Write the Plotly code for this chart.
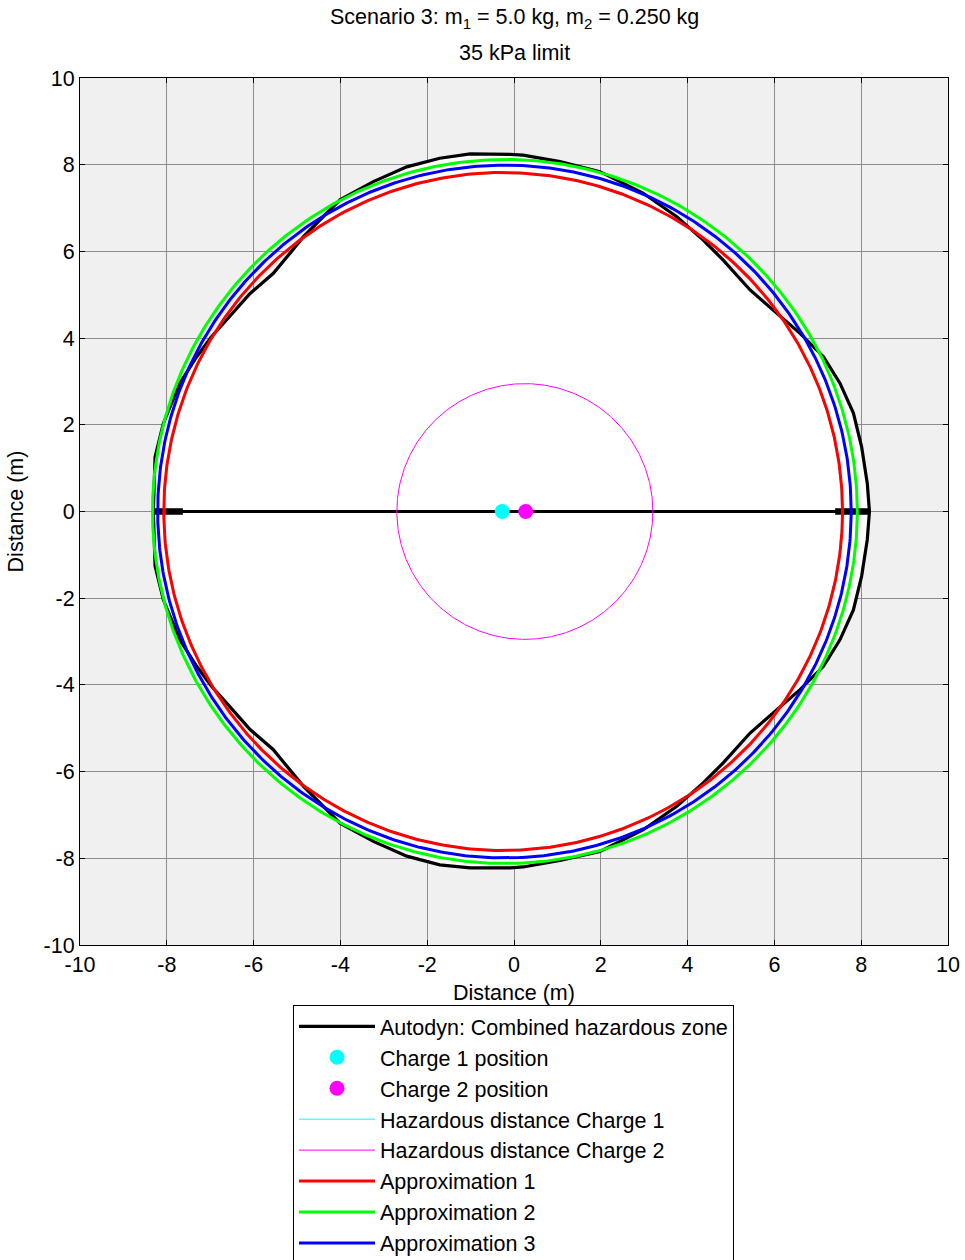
import numpy as np
import plotly.graph_objects as go

# ---------------- data ----------------
# Autodyn combined hazardous zone contour (m), closed loop
zone_x = [8.19, 8.14, 8.01, 7.82, 7.51, 7.13, 6.59, 6.05, 5.44, 4.82, 4.36, 3.75, 2.98, 1.98, 1.06, 0.21,
          -0.09, -1.01, -1.71, -2.47, -3.24, -4.01, -4.47, -4.85, -5.16, -5.55, -6.08, -6.62, -6.97, -7.31,
          -7.70, -8.08, -8.27, -8.31,
          -8.27, -8.08, -7.70, -7.31, -6.97, -6.62, -6.08, -5.55, -5.16, -4.85, -4.47, -4.01, -3.24, -2.47,
          -1.71, -1.01, -0.09, 0.21, 1.06, 1.98, 2.98, 3.75, 4.36, 4.82, 5.44, 6.05, 6.59, 7.13, 7.51, 7.82,
          8.01, 8.14, 8.19]
zone_y = [0.00, 0.65, 1.49, 2.27, 2.96, 3.57, 4.11, 4.57, 5.11, 5.80, 6.26, 6.80, 7.34, 7.84, 8.07, 8.22,
          8.24, 8.25, 8.15, 7.95, 7.61, 7.19, 6.72, 6.34, 5.96, 5.49, 5.03, 4.42, 4.03, 3.57,
          2.96, 2.03, 1.26, 0.00,
          -1.26, -2.03, -2.96, -3.57, -4.03, -4.42, -5.03, -5.49, -5.96, -6.34, -6.72, -7.19, -7.61, -7.95,
          -8.15, -8.22, -8.22, -8.20, -8.05, -7.84, -7.34, -6.80, -6.26, -5.80, -5.11, -4.57, -4.11, -3.57,
          -2.96, -2.27, -1.49, -0.65, 0.00]
# horizontal line of the contour along y = 0
axis_line_x = [-8.31, 8.19]
axis_line_y = [0.0, 0.0]
thick_left_x = [-8.31, -7.63]
thick_right_x = [7.40, 8.19]

# charge positions (m)
charge1_pos = [-0.27, 0.0]
charge2_pos = [0.27, 0.0]

# circles: (centre x, centre y, radius) in m
haz1_circle = [-0.25, 0.0, 7.80]
haz2_circle = [0.25, 0.0, 2.95]
approx1_circle = [-0.25, 0.0, 7.82]
approx2_circle = [-0.21, 0.0, 8.12]
approx3_circle = [-0.22, 0.0, 7.99]

tick_vals = [-10, -8, -6, -4, -2, 0, 2, 4, 6, 8, 10]
tick_text = ["-10", "-8", "-6", "-4", "-2", "0", "2", "4", "6", "8", "10"]

title_line1 = "Scenario 3: m<sub>1</sub> = 5.0 kg, m<sub>2</sub> = 0.250 kg"
title_line2 = "35 kPa limit"
axis_title = "Distance (m)"
y_axis_title = "Distance (m)"

# ---------------------------------------------------------------
FONT = "Liberation Sans, Arial, sans-serif"
FS = 21.5


def circle(c):
    t = np.linspace(0, 2 * np.pi, 721)
    return c[0] + c[2] * np.cos(t), c[1] + c[2] * np.sin(t)


fig = go.Figure()

# white interior of the hazardous zone
fig.add_trace(go.Scatter(x=zone_x, y=zone_y, mode="lines", fill="toself", fillcolor="white",
                         line=dict(width=0, color="white"), showlegend=False, hoverinfo="skip"))
# contour outline
fig.add_trace(go.Scatter(x=zone_x, y=zone_y, mode="lines", line=dict(color="black", width=3.2),
                         name="Autodyn: Combined hazardous zone", legendrank=1, legendgroup="a"))
fig.add_trace(go.Scatter(x=axis_line_x, y=axis_line_y, mode="lines", line=dict(color="black", width=3.2),
                         showlegend=False))
fig.add_trace(go.Scatter(x=thick_left_x, y=axis_line_y, mode="lines", line=dict(color="black", width=6.5),
                         showlegend=False))
fig.add_trace(go.Scatter(x=thick_right_x, y=axis_line_y, mode="lines", line=dict(color="black", width=6.5),
                         showlegend=False))

hx, hy = circle(haz2_circle)
fig.add_trace(go.Scatter(x=hx, y=hy, mode="lines", line=dict(color="#ff00ff", width=1),
                         name="Hazardous distance Charge 2", legendrank=5, legendgroup="e"))
hx, hy = circle(haz1_circle)
fig.add_trace(go.Scatter(x=hx, y=hy, mode="lines", line=dict(color="#00ffff", width=1),
                         name="Hazardous distance Charge 1", legendrank=4, legendgroup="d"))

for c, col, nm, rk, g in [(approx1_circle, "#ff0000", "Approximation 1", 6, "f"),
                          (approx2_circle, "#00ff00", "Approximation 2", 7, "g"),
                          (approx3_circle, "#0000ff", "Approximation 3", 8, "h")]:
    cx, cy = circle(c)
    fig.add_trace(go.Scatter(x=cx, y=cy, mode="lines", line=dict(color=col, width=3),
                             name=nm, legendrank=rk, legendgroup=g))

fig.add_trace(go.Scatter(x=[charge1_pos[0]], y=[charge1_pos[1]], mode="markers",
                         marker=dict(color="#00ffff", size=15), name="Charge 1 position",
                         legendrank=2, legendgroup="b"))
fig.add_trace(go.Scatter(x=[charge2_pos[0]], y=[charge2_pos[1]], mode="markers",
                         marker=dict(color="#ff00ff", size=15), name="Charge 2 position",
                         legendrank=3, legendgroup="c"))

axis_common = dict(range=[-10, 10], tickvals=tick_vals, ticktext=tick_text, showgrid=True,
                   gridcolor="#8c8c8c", gridwidth=1, zeroline=False, showline=True,
                   linecolor="black", linewidth=1, mirror="ticks", ticks="inside", ticklen=5,
                   tickcolor="black", tickfont=dict(family=FONT, size=FS, color="black"))

fig.update_layout(
    width=965, height=1260,
    margin=dict(l=80, r=17, t=78, b=315, autoexpand=False),
    paper_bgcolor="white", plot_bgcolor="#f0f0f0",
    font=dict(family=FONT, size=FS, color="black"),
    xaxis=dict(**axis_common, title=dict(text=axis_title, standoff=9,
                                         font=dict(family=FONT, size=FS))),
    yaxis=dict(**axis_common, title=dict(text=y_axis_title, standoff=14,
                                         font=dict(family=FONT, size=FS))),
    legend=dict(x=0.2454, y=-0.069, xanchor="left", yanchor="top", bgcolor="white",
                bordercolor="black", borderwidth=1, itemwidth=76, tracegroupgap=0,
                font=dict(family=FONT, size=FS, color="black")),
    showlegend=True,
    annotations=[
        dict(text=title_line1, x=0.5, y=1.069, xref="paper", yref="paper", showarrow=False,
             xanchor="center", yanchor="middle", font=dict(family=FONT, size=FS, color="black")),
        dict(text=title_line2, x=0.5, y=1.0288, xref="paper", yref="paper", showarrow=False,
             xanchor="center", yanchor="middle", font=dict(family=FONT, size=FS, color="black")),
    ],
)

fig.write_html("out.html", config={"displayModeBar": False},
               post_script="document.body.style.margin='0px';")
